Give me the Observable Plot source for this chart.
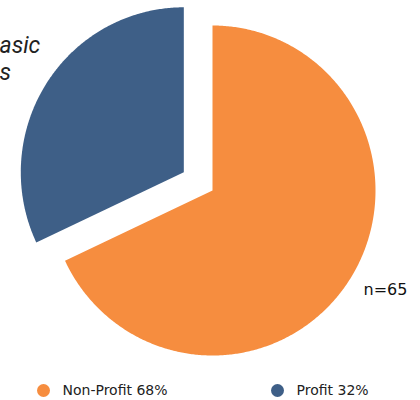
<!DOCTYPE html>
<html>
<head>
<meta charset="utf-8">
<script src="https://cdn.jsdelivr.net/npm/d3@7"></script>
<script src="https://cdn.jsdelivr.net/npm/@observablehq/plot@0.6"></script>
<style>
  html, body { margin: 0; padding: 0; background: #ffffff; }
  #chart svg { display: block; }
</style>
</head>
<body>
<div id="chart"></div>
<script>
// ---- data ----
const categories = ["Non-Profit", "Profit"];
const shares = [68, 32];
const colors = ["#F68D3F", "#3E5F87"];
const legendLabels = ["Non-Profit 68%", "Profit 32%"];
const explode = [0, 1];
const sampleLabel = "n=65";
const titleText = "asic\ns";

// ---- geometry (in plot units, mapped through x/y scales) ----
const cx = 212, cy = 190, Rx = 163, Ry = 165, offset = 34;
const pie = d3.pie().sort(null).value(d => d.share)(categories.map((c, i) => ({cat: c, share: shares[i], i})));

const slicePaths = pie.map(p => {
  const mid = (p.startAngle + p.endAngle) / 2;
  const ox = cx + (explode[p.data.i] ? offset * Math.sin(mid) : 0);
  const oy = cy - (explode[p.data.i] ? offset * Math.cos(mid) : 0);
  const pts = [{x: ox, y: oy}];
  const n = Math.max(2, Math.ceil((p.endAngle - p.startAngle) / (Math.PI / 360)));
  for (let k = 0; k <= n; k++) {
    const a = p.startAngle + (p.endAngle - p.startAngle) * k / n;
    pts.push({x: ox + Rx * Math.sin(a), y: oy - Ry * Math.cos(a)});
  }
  pts.push({x: ox, y: oy});
  return {pts, color: colors[p.data.i]};
});

const legend = categories.map((c, i) => ({label: legendLabels[i], color: colors[i], x: [43, 277][i], y: 390}));

const marks = [
  ...slicePaths.map(s => Plot.line(s.pts, {x: "x", y: "y", fill: s.color, stroke: "none", curve: "linear"})),
  Plot.text([{t: titleText, x: -1, y: 79}], {
    x: "x", y: "y", text: "t", textAnchor: "start", lineAnchor: "bottom", lineHeight: 1.17,
    fontSize: 23, fontStyle: "italic", fontFamily: "Roboto", fill: "#222"
  }),
  Plot.text([{t: sampleLabel, x: 363, y: 294}], {
    x: "x", y: "y", text: "t", textAnchor: "start", lineAnchor: "bottom",
    fontSize: 16, fontFamily: "DejaVu Sans", fill: "#111"
  }),
  Plot.dot(legend, {x: "x", y: "y", r: 6.5, fill: "color", stroke: "none"}),
  Plot.text(legend, {
    x: d => d.x + 19, y: "y", text: "label", textAnchor: "start",
    fontSize: 14, fontFamily: "DejaVu Sans", fill: "#222"
  })
];

const chart = Plot.plot({
  width: 420, height: 400,
  margin: 0,
  x: {type: "linear", domain: [0, 420], range: [0, 420], axis: null},
  y: {type: "linear", domain: [0, 400], range: [0, 400], axis: null},
  style: {background: "#ffffff", overflow: "visible"},
  marks
});
document.getElementById("chart").appendChild(chart);
</script>
</body>
</html>
